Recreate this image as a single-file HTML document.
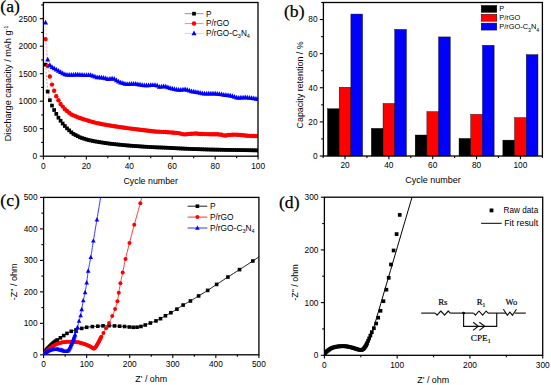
<!DOCTYPE html>
<html><head><meta charset="utf-8"><style>html,body{margin:0;padding:0;background:#fff;overflow:hidden}svg{display:block}</style></head>
<body>
<svg width="551" height="385" viewBox="0 0 551 385">
<rect width="551" height="385" fill="#fff"/>
<g clip-path="url(#ca)">
<clipPath id="ca"><rect x="43.4" y="2.5" width="214.6" height="153.7"/></clipPath>
<polyline points="45.55,64.62 47.69,91.57 49.84,100.21 51.99,105.6 54.13,110 56.28,113.9 58.43,117.7 60.58,120.76 62.72,123.57 64.87,126.02 67.02,128.38 69.16,130.34 71.31,132.31 73.46,133.93 75.6,135.05 77.75,136.16 79.9,137.28 82.05,138.07 84.19,138.73 86.34,139.38 88.49,140.02 90.63,140.46 92.78,140.91 94.93,141.35 97.07,141.72 99.22,142.08 101.37,142.42 103.52,142.73 105.66,143.05 107.81,143.36 109.96,143.68 112.1,143.92 114.25,144.14 116.4,144.36 118.54,144.58 120.69,144.8 122.84,145.02 124.99,145.23 127.13,145.43 129.28,145.59 131.43,145.75 133.57,145.91 135.72,146.07 137.87,146.23 140.01,146.39 142.16,146.54 144.31,146.67 146.46,146.79 148.6,146.92 150.75,147.04 152.9,147.17 155.04,147.29 157.19,147.37 159.34,147.44 161.48,147.52 163.63,147.6 165.78,147.67 167.93,147.79 170.07,147.91 172.22,148.03 174.37,148.15 176.51,148.27 178.66,148.39 180.81,148.48 182.95,148.58 185.1,148.67 187.25,148.77 189.4,148.86 191.54,148.96 193.69,149.05 195.84,149.12 197.98,149.18 200.13,149.25 202.28,149.31 204.42,149.38 206.57,149.44 208.72,149.51 210.87,149.56 213.01,149.6 215.16,149.64 217.31,149.68 219.45,149.73 221.6,149.77 223.75,149.81 225.89,149.85 228.04,149.89 230.19,149.93 232.34,149.96 234.48,150 236.63,150.03 238.78,150.07 240.92,150.1 243.07,150.13 245.22,150.17 247.36,150.2 249.51,150.23 251.66,150.27 253.81,150.3 255.95,150.34 258.1,150.37" fill="none" stroke="#999" stroke-width="0.8" stroke-dasharray="2 1.5"/>
<polyline points="45.55,39.1 47.69,66 49.84,76.5 51.99,84.59 54.13,90.8 56.28,96.3 58.43,100.21 60.58,103.95 62.72,106.62 64.87,109.28 67.02,111.05 69.16,112.81 71.31,114.49 73.46,115.41 75.6,116.32 77.75,117.24 79.9,118.04 82.05,118.73 84.19,119.41 86.34,120.09 88.49,120.73 90.63,121.35 92.78,121.97 94.93,122.59 97.07,123.08 99.22,123.56 101.37,123.99 103.52,124.38 105.66,124.77 107.81,125.16 109.96,125.56 112.1,125.9 114.25,126.21 116.4,126.53 118.54,126.85 120.69,127.16 122.84,127.48 124.99,127.8 127.13,128.09 129.28,128.36 131.43,128.63 133.57,128.89 135.72,129.16 137.87,129.43 140.01,129.7 142.16,129.96 144.31,130.21 146.46,130.47 148.6,130.72 150.75,130.99 152.9,131.27 155.04,131.56 157.19,131.65 159.34,131.74 161.48,131.83 163.63,131.92 165.78,132.02 167.93,132.18 170.07,132.35 172.22,132.52 174.37,132.68 176.51,132.89 178.66,133.1 180.81,133.63 182.95,134.16 185.1,134.38 187.25,134.15 189.4,133.92 191.54,133.8 193.69,133.67 195.84,133.54 197.98,133.68 200.13,133.98 202.28,134.03 204.42,134.08 206.57,134.13 208.72,134.17 210.87,134.21 213.01,134.24 215.16,134.27 217.31,134.29 219.45,134.44 221.6,134.75 223.75,135.41 225.89,135.5 228.04,135.02 230.19,134.87 232.34,134.72 234.48,134.6 236.63,134.74 238.78,134.88 240.92,135.02 243.07,135.26 245.22,135.5 247.36,135.74 249.51,135.84 251.66,135.93 253.81,136.03 255.95,136.12 258.1,136.12" fill="none" stroke="#f99" stroke-width="0.8" stroke-dasharray="2 1.5"/>
<polyline points="45.55,22.49 47.69,59.67 49.84,65.17 51.99,67.1 54.13,68.26 56.28,69.48 58.43,70.8 60.58,72.08 62.72,73.27 64.87,74.46 67.02,74.74 69.16,74.93 71.31,74.96 73.46,74.83 75.6,74.71 77.75,74.58 79.9,74.75 82.05,74.92 84.19,75.08 86.34,75.16 88.49,75.08 90.63,75.09 92.78,75.83 94.93,76.56 97.07,77.24 99.22,77.44 101.37,77.64 103.52,77.88 105.66,78.43 107.81,78.98 109.96,78.85 112.1,78.55 114.25,78.91 116.4,80.23 118.54,81.56 120.69,82.54 122.84,83.16 124.99,83.78 127.13,84.06 129.28,84 131.43,83.94 133.57,83.88 135.72,83.86 137.87,84.26 140.01,84.65 142.16,85.05 144.31,85.45 146.46,85.43 148.6,85.32 150.75,85.21 152.9,85.09 155.04,84.98 157.19,85.54 159.34,86.79 161.48,86.51 163.63,86.24 165.78,86.7 167.93,87.35 170.07,88 172.22,88.54 174.37,89.07 176.51,89.61 178.66,89.92 180.81,89.74 182.95,89.56 185.1,89.37 187.25,89.88 189.4,90.68 191.54,91.26 193.69,91.62 195.84,91.98 197.98,92.41 200.13,92.88 202.28,93.36 204.42,93.5 206.57,93.5 208.72,93.5 210.87,93.52 213.01,93.56 215.16,93.6 217.31,93.85 219.45,94.16 221.6,94.47 223.75,94.77 225.89,95.07 228.04,95.36 230.19,95.66 232.34,96.15 234.48,96.83 236.63,97.52 238.78,97.74 240.92,97.65 243.07,97.56 245.22,97.47 247.36,97.5 249.51,97.82 251.66,98.13 253.81,98.45 255.95,98.76 258.1,99" fill="none" stroke="#ccf" stroke-width="0.8" stroke-dasharray="2 1.5"/>
<rect x="43.7" y="62.77" width="3.7" height="3.7" fill="#000"/>
<rect x="45.84" y="89.72" width="3.7" height="3.7" fill="#000"/>
<rect x="47.99" y="98.36" width="3.7" height="3.7" fill="#000"/>
<rect x="50.14" y="103.75" width="3.7" height="3.7" fill="#000"/>
<rect x="52.28" y="108.15" width="3.7" height="3.7" fill="#000"/>
<rect x="54.43" y="112.05" width="3.7" height="3.7" fill="#000"/>
<rect x="56.58" y="115.85" width="3.7" height="3.7" fill="#000"/>
<rect x="58.73" y="118.91" width="3.7" height="3.7" fill="#000"/>
<rect x="60.87" y="121.72" width="3.7" height="3.7" fill="#000"/>
<rect x="63.02" y="124.17" width="3.7" height="3.7" fill="#000"/>
<rect x="65.17" y="126.53" width="3.7" height="3.7" fill="#000"/>
<rect x="67.31" y="128.49" width="3.7" height="3.7" fill="#000"/>
<rect x="69.46" y="130.46" width="3.7" height="3.7" fill="#000"/>
<rect x="71.61" y="132.08" width="3.7" height="3.7" fill="#000"/>
<rect x="73.75" y="133.2" width="3.7" height="3.7" fill="#000"/>
<rect x="75.9" y="134.31" width="3.7" height="3.7" fill="#000"/>
<rect x="78.05" y="135.43" width="3.7" height="3.7" fill="#000"/>
<rect x="80.2" y="136.22" width="3.7" height="3.7" fill="#000"/>
<rect x="82.34" y="136.88" width="3.7" height="3.7" fill="#000"/>
<rect x="84.49" y="137.53" width="3.7" height="3.7" fill="#000"/>
<rect x="86.64" y="138.17" width="3.7" height="3.7" fill="#000"/>
<rect x="88.78" y="138.61" width="3.7" height="3.7" fill="#000"/>
<rect x="90.93" y="139.06" width="3.7" height="3.7" fill="#000"/>
<rect x="93.08" y="139.5" width="3.7" height="3.7" fill="#000"/>
<rect x="95.22" y="139.87" width="3.7" height="3.7" fill="#000"/>
<rect x="97.37" y="140.23" width="3.7" height="3.7" fill="#000"/>
<rect x="99.52" y="140.57" width="3.7" height="3.7" fill="#000"/>
<rect x="101.67" y="140.88" width="3.7" height="3.7" fill="#000"/>
<rect x="103.81" y="141.2" width="3.7" height="3.7" fill="#000"/>
<rect x="105.96" y="141.51" width="3.7" height="3.7" fill="#000"/>
<rect x="108.11" y="141.83" width="3.7" height="3.7" fill="#000"/>
<rect x="110.25" y="142.07" width="3.7" height="3.7" fill="#000"/>
<rect x="112.4" y="142.29" width="3.7" height="3.7" fill="#000"/>
<rect x="114.55" y="142.51" width="3.7" height="3.7" fill="#000"/>
<rect x="116.69" y="142.73" width="3.7" height="3.7" fill="#000"/>
<rect x="118.84" y="142.95" width="3.7" height="3.7" fill="#000"/>
<rect x="120.99" y="143.17" width="3.7" height="3.7" fill="#000"/>
<rect x="123.14" y="143.38" width="3.7" height="3.7" fill="#000"/>
<rect x="125.28" y="143.58" width="3.7" height="3.7" fill="#000"/>
<rect x="127.43" y="143.74" width="3.7" height="3.7" fill="#000"/>
<rect x="129.58" y="143.9" width="3.7" height="3.7" fill="#000"/>
<rect x="131.72" y="144.06" width="3.7" height="3.7" fill="#000"/>
<rect x="133.87" y="144.22" width="3.7" height="3.7" fill="#000"/>
<rect x="136.02" y="144.38" width="3.7" height="3.7" fill="#000"/>
<rect x="138.16" y="144.54" width="3.7" height="3.7" fill="#000"/>
<rect x="140.31" y="144.69" width="3.7" height="3.7" fill="#000"/>
<rect x="142.46" y="144.82" width="3.7" height="3.7" fill="#000"/>
<rect x="144.61" y="144.94" width="3.7" height="3.7" fill="#000"/>
<rect x="146.75" y="145.07" width="3.7" height="3.7" fill="#000"/>
<rect x="148.9" y="145.19" width="3.7" height="3.7" fill="#000"/>
<rect x="151.05" y="145.32" width="3.7" height="3.7" fill="#000"/>
<rect x="153.19" y="145.44" width="3.7" height="3.7" fill="#000"/>
<rect x="155.34" y="145.52" width="3.7" height="3.7" fill="#000"/>
<rect x="157.49" y="145.59" width="3.7" height="3.7" fill="#000"/>
<rect x="159.63" y="145.67" width="3.7" height="3.7" fill="#000"/>
<rect x="161.78" y="145.75" width="3.7" height="3.7" fill="#000"/>
<rect x="163.93" y="145.82" width="3.7" height="3.7" fill="#000"/>
<rect x="166.08" y="145.94" width="3.7" height="3.7" fill="#000"/>
<rect x="168.22" y="146.06" width="3.7" height="3.7" fill="#000"/>
<rect x="170.37" y="146.18" width="3.7" height="3.7" fill="#000"/>
<rect x="172.52" y="146.3" width="3.7" height="3.7" fill="#000"/>
<rect x="174.66" y="146.42" width="3.7" height="3.7" fill="#000"/>
<rect x="176.81" y="146.54" width="3.7" height="3.7" fill="#000"/>
<rect x="178.96" y="146.63" width="3.7" height="3.7" fill="#000"/>
<rect x="181.1" y="146.73" width="3.7" height="3.7" fill="#000"/>
<rect x="183.25" y="146.82" width="3.7" height="3.7" fill="#000"/>
<rect x="185.4" y="146.92" width="3.7" height="3.7" fill="#000"/>
<rect x="187.55" y="147.01" width="3.7" height="3.7" fill="#000"/>
<rect x="189.69" y="147.11" width="3.7" height="3.7" fill="#000"/>
<rect x="191.84" y="147.2" width="3.7" height="3.7" fill="#000"/>
<rect x="193.99" y="147.27" width="3.7" height="3.7" fill="#000"/>
<rect x="196.13" y="147.33" width="3.7" height="3.7" fill="#000"/>
<rect x="198.28" y="147.4" width="3.7" height="3.7" fill="#000"/>
<rect x="200.43" y="147.46" width="3.7" height="3.7" fill="#000"/>
<rect x="202.57" y="147.53" width="3.7" height="3.7" fill="#000"/>
<rect x="204.72" y="147.59" width="3.7" height="3.7" fill="#000"/>
<rect x="206.87" y="147.66" width="3.7" height="3.7" fill="#000"/>
<rect x="209.02" y="147.71" width="3.7" height="3.7" fill="#000"/>
<rect x="211.16" y="147.75" width="3.7" height="3.7" fill="#000"/>
<rect x="213.31" y="147.79" width="3.7" height="3.7" fill="#000"/>
<rect x="215.46" y="147.83" width="3.7" height="3.7" fill="#000"/>
<rect x="217.6" y="147.88" width="3.7" height="3.7" fill="#000"/>
<rect x="219.75" y="147.92" width="3.7" height="3.7" fill="#000"/>
<rect x="221.9" y="147.96" width="3.7" height="3.7" fill="#000"/>
<rect x="224.04" y="148" width="3.7" height="3.7" fill="#000"/>
<rect x="226.19" y="148.04" width="3.7" height="3.7" fill="#000"/>
<rect x="228.34" y="148.08" width="3.7" height="3.7" fill="#000"/>
<rect x="230.49" y="148.11" width="3.7" height="3.7" fill="#000"/>
<rect x="232.63" y="148.15" width="3.7" height="3.7" fill="#000"/>
<rect x="234.78" y="148.18" width="3.7" height="3.7" fill="#000"/>
<rect x="236.93" y="148.22" width="3.7" height="3.7" fill="#000"/>
<rect x="239.07" y="148.25" width="3.7" height="3.7" fill="#000"/>
<rect x="241.22" y="148.28" width="3.7" height="3.7" fill="#000"/>
<rect x="243.37" y="148.32" width="3.7" height="3.7" fill="#000"/>
<rect x="245.51" y="148.35" width="3.7" height="3.7" fill="#000"/>
<rect x="247.66" y="148.38" width="3.7" height="3.7" fill="#000"/>
<rect x="249.81" y="148.42" width="3.7" height="3.7" fill="#000"/>
<rect x="251.96" y="148.45" width="3.7" height="3.7" fill="#000"/>
<rect x="254.1" y="148.49" width="3.7" height="3.7" fill="#000"/>
<rect x="256.25" y="148.52" width="3.7" height="3.7" fill="#000"/>
<circle cx="45.55" cy="39.1" r="2.2" fill="#f00"/>
<circle cx="47.69" cy="66" r="2.2" fill="#f00"/>
<circle cx="49.84" cy="76.5" r="2.2" fill="#f00"/>
<circle cx="51.99" cy="84.59" r="2.2" fill="#f00"/>
<circle cx="54.13" cy="90.8" r="2.2" fill="#f00"/>
<circle cx="56.28" cy="96.3" r="2.2" fill="#f00"/>
<circle cx="58.43" cy="100.21" r="2.2" fill="#f00"/>
<circle cx="60.58" cy="103.95" r="2.2" fill="#f00"/>
<circle cx="62.72" cy="106.62" r="2.2" fill="#f00"/>
<circle cx="64.87" cy="109.28" r="2.2" fill="#f00"/>
<circle cx="67.02" cy="111.05" r="2.2" fill="#f00"/>
<circle cx="69.16" cy="112.81" r="2.2" fill="#f00"/>
<circle cx="71.31" cy="114.49" r="2.2" fill="#f00"/>
<circle cx="73.46" cy="115.41" r="2.2" fill="#f00"/>
<circle cx="75.6" cy="116.32" r="2.2" fill="#f00"/>
<circle cx="77.75" cy="117.24" r="2.2" fill="#f00"/>
<circle cx="79.9" cy="118.04" r="2.2" fill="#f00"/>
<circle cx="82.05" cy="118.73" r="2.2" fill="#f00"/>
<circle cx="84.19" cy="119.41" r="2.2" fill="#f00"/>
<circle cx="86.34" cy="120.09" r="2.2" fill="#f00"/>
<circle cx="88.49" cy="120.73" r="2.2" fill="#f00"/>
<circle cx="90.63" cy="121.35" r="2.2" fill="#f00"/>
<circle cx="92.78" cy="121.97" r="2.2" fill="#f00"/>
<circle cx="94.93" cy="122.59" r="2.2" fill="#f00"/>
<circle cx="97.07" cy="123.08" r="2.2" fill="#f00"/>
<circle cx="99.22" cy="123.56" r="2.2" fill="#f00"/>
<circle cx="101.37" cy="123.99" r="2.2" fill="#f00"/>
<circle cx="103.52" cy="124.38" r="2.2" fill="#f00"/>
<circle cx="105.66" cy="124.77" r="2.2" fill="#f00"/>
<circle cx="107.81" cy="125.16" r="2.2" fill="#f00"/>
<circle cx="109.96" cy="125.56" r="2.2" fill="#f00"/>
<circle cx="112.1" cy="125.9" r="2.2" fill="#f00"/>
<circle cx="114.25" cy="126.21" r="2.2" fill="#f00"/>
<circle cx="116.4" cy="126.53" r="2.2" fill="#f00"/>
<circle cx="118.54" cy="126.85" r="2.2" fill="#f00"/>
<circle cx="120.69" cy="127.16" r="2.2" fill="#f00"/>
<circle cx="122.84" cy="127.48" r="2.2" fill="#f00"/>
<circle cx="124.99" cy="127.8" r="2.2" fill="#f00"/>
<circle cx="127.13" cy="128.09" r="2.2" fill="#f00"/>
<circle cx="129.28" cy="128.36" r="2.2" fill="#f00"/>
<circle cx="131.43" cy="128.63" r="2.2" fill="#f00"/>
<circle cx="133.57" cy="128.89" r="2.2" fill="#f00"/>
<circle cx="135.72" cy="129.16" r="2.2" fill="#f00"/>
<circle cx="137.87" cy="129.43" r="2.2" fill="#f00"/>
<circle cx="140.01" cy="129.7" r="2.2" fill="#f00"/>
<circle cx="142.16" cy="129.96" r="2.2" fill="#f00"/>
<circle cx="144.31" cy="130.21" r="2.2" fill="#f00"/>
<circle cx="146.46" cy="130.47" r="2.2" fill="#f00"/>
<circle cx="148.6" cy="130.72" r="2.2" fill="#f00"/>
<circle cx="150.75" cy="130.99" r="2.2" fill="#f00"/>
<circle cx="152.9" cy="131.27" r="2.2" fill="#f00"/>
<circle cx="155.04" cy="131.56" r="2.2" fill="#f00"/>
<circle cx="157.19" cy="131.65" r="2.2" fill="#f00"/>
<circle cx="159.34" cy="131.74" r="2.2" fill="#f00"/>
<circle cx="161.48" cy="131.83" r="2.2" fill="#f00"/>
<circle cx="163.63" cy="131.92" r="2.2" fill="#f00"/>
<circle cx="165.78" cy="132.02" r="2.2" fill="#f00"/>
<circle cx="167.93" cy="132.18" r="2.2" fill="#f00"/>
<circle cx="170.07" cy="132.35" r="2.2" fill="#f00"/>
<circle cx="172.22" cy="132.52" r="2.2" fill="#f00"/>
<circle cx="174.37" cy="132.68" r="2.2" fill="#f00"/>
<circle cx="176.51" cy="132.89" r="2.2" fill="#f00"/>
<circle cx="178.66" cy="133.1" r="2.2" fill="#f00"/>
<circle cx="180.81" cy="133.63" r="2.2" fill="#f00"/>
<circle cx="182.95" cy="134.16" r="2.2" fill="#f00"/>
<circle cx="185.1" cy="134.38" r="2.2" fill="#f00"/>
<circle cx="187.25" cy="134.15" r="2.2" fill="#f00"/>
<circle cx="189.4" cy="133.92" r="2.2" fill="#f00"/>
<circle cx="191.54" cy="133.8" r="2.2" fill="#f00"/>
<circle cx="193.69" cy="133.67" r="2.2" fill="#f00"/>
<circle cx="195.84" cy="133.54" r="2.2" fill="#f00"/>
<circle cx="197.98" cy="133.68" r="2.2" fill="#f00"/>
<circle cx="200.13" cy="133.98" r="2.2" fill="#f00"/>
<circle cx="202.28" cy="134.03" r="2.2" fill="#f00"/>
<circle cx="204.42" cy="134.08" r="2.2" fill="#f00"/>
<circle cx="206.57" cy="134.13" r="2.2" fill="#f00"/>
<circle cx="208.72" cy="134.17" r="2.2" fill="#f00"/>
<circle cx="210.87" cy="134.21" r="2.2" fill="#f00"/>
<circle cx="213.01" cy="134.24" r="2.2" fill="#f00"/>
<circle cx="215.16" cy="134.27" r="2.2" fill="#f00"/>
<circle cx="217.31" cy="134.29" r="2.2" fill="#f00"/>
<circle cx="219.45" cy="134.44" r="2.2" fill="#f00"/>
<circle cx="221.6" cy="134.75" r="2.2" fill="#f00"/>
<circle cx="223.75" cy="135.41" r="2.2" fill="#f00"/>
<circle cx="225.89" cy="135.5" r="2.2" fill="#f00"/>
<circle cx="228.04" cy="135.02" r="2.2" fill="#f00"/>
<circle cx="230.19" cy="134.87" r="2.2" fill="#f00"/>
<circle cx="232.34" cy="134.72" r="2.2" fill="#f00"/>
<circle cx="234.48" cy="134.6" r="2.2" fill="#f00"/>
<circle cx="236.63" cy="134.74" r="2.2" fill="#f00"/>
<circle cx="238.78" cy="134.88" r="2.2" fill="#f00"/>
<circle cx="240.92" cy="135.02" r="2.2" fill="#f00"/>
<circle cx="243.07" cy="135.26" r="2.2" fill="#f00"/>
<circle cx="245.22" cy="135.5" r="2.2" fill="#f00"/>
<circle cx="247.36" cy="135.74" r="2.2" fill="#f00"/>
<circle cx="249.51" cy="135.84" r="2.2" fill="#f00"/>
<circle cx="251.66" cy="135.93" r="2.2" fill="#f00"/>
<circle cx="253.81" cy="136.03" r="2.2" fill="#f00"/>
<circle cx="255.95" cy="136.12" r="2.2" fill="#f00"/>
<circle cx="258.1" cy="136.12" r="2.2" fill="#f00"/>
<path d="M45.55 19.64L48.05 24.39L43.05 24.39Z" fill="#00f"/>
<path d="M47.69 56.82L50.19 61.57L45.19 61.57Z" fill="#00f"/>
<path d="M49.84 62.32L52.34 67.07L47.34 67.07Z" fill="#00f"/>
<path d="M51.99 64.25L54.49 69L49.49 69Z" fill="#00f"/>
<path d="M54.13 65.41L56.63 70.16L51.63 70.16Z" fill="#00f"/>
<path d="M56.28 66.63L58.78 71.38L53.78 71.38Z" fill="#00f"/>
<path d="M58.43 67.95L60.93 72.7L55.93 72.7Z" fill="#00f"/>
<path d="M60.58 69.23L63.08 73.98L58.08 73.98Z" fill="#00f"/>
<path d="M62.72 70.42L65.22 75.17L60.22 75.17Z" fill="#00f"/>
<path d="M64.87 71.61L67.37 76.36L62.37 76.36Z" fill="#00f"/>
<path d="M67.02 71.89L69.52 76.64L64.52 76.64Z" fill="#00f"/>
<path d="M69.16 72.08L71.66 76.83L66.66 76.83Z" fill="#00f"/>
<path d="M71.31 72.11L73.81 76.86L68.81 76.86Z" fill="#00f"/>
<path d="M73.46 71.98L75.96 76.73L70.96 76.73Z" fill="#00f"/>
<path d="M75.6 71.86L78.1 76.61L73.1 76.61Z" fill="#00f"/>
<path d="M77.75 71.73L80.25 76.48L75.25 76.48Z" fill="#00f"/>
<path d="M79.9 71.9L82.4 76.65L77.4 76.65Z" fill="#00f"/>
<path d="M82.05 72.07L84.55 76.82L79.55 76.82Z" fill="#00f"/>
<path d="M84.19 72.23L86.69 76.98L81.69 76.98Z" fill="#00f"/>
<path d="M86.34 72.31L88.84 77.06L83.84 77.06Z" fill="#00f"/>
<path d="M88.49 72.23L90.99 76.98L85.99 76.98Z" fill="#00f"/>
<path d="M90.63 72.24L93.13 76.99L88.13 76.99Z" fill="#00f"/>
<path d="M92.78 72.98L95.28 77.73L90.28 77.73Z" fill="#00f"/>
<path d="M94.93 73.71L97.43 78.46L92.43 78.46Z" fill="#00f"/>
<path d="M97.07 74.39L99.57 79.14L94.57 79.14Z" fill="#00f"/>
<path d="M99.22 74.59L101.72 79.34L96.72 79.34Z" fill="#00f"/>
<path d="M101.37 74.79L103.87 79.54L98.87 79.54Z" fill="#00f"/>
<path d="M103.52 75.03L106.02 79.78L101.02 79.78Z" fill="#00f"/>
<path d="M105.66 75.58L108.16 80.33L103.16 80.33Z" fill="#00f"/>
<path d="M107.81 76.13L110.31 80.88L105.31 80.88Z" fill="#00f"/>
<path d="M109.96 76L112.46 80.75L107.46 80.75Z" fill="#00f"/>
<path d="M112.1 75.7L114.6 80.45L109.6 80.45Z" fill="#00f"/>
<path d="M114.25 76.06L116.75 80.81L111.75 80.81Z" fill="#00f"/>
<path d="M116.4 77.38L118.9 82.13L113.9 82.13Z" fill="#00f"/>
<path d="M118.54 78.71L121.04 83.46L116.04 83.46Z" fill="#00f"/>
<path d="M120.69 79.69L123.19 84.44L118.19 84.44Z" fill="#00f"/>
<path d="M122.84 80.31L125.34 85.06L120.34 85.06Z" fill="#00f"/>
<path d="M124.99 80.93L127.49 85.68L122.49 85.68Z" fill="#00f"/>
<path d="M127.13 81.21L129.63 85.96L124.63 85.96Z" fill="#00f"/>
<path d="M129.28 81.15L131.78 85.9L126.78 85.9Z" fill="#00f"/>
<path d="M131.43 81.09L133.93 85.84L128.93 85.84Z" fill="#00f"/>
<path d="M133.57 81.03L136.07 85.78L131.07 85.78Z" fill="#00f"/>
<path d="M135.72 81.01L138.22 85.76L133.22 85.76Z" fill="#00f"/>
<path d="M137.87 81.41L140.37 86.16L135.37 86.16Z" fill="#00f"/>
<path d="M140.01 81.8L142.51 86.55L137.51 86.55Z" fill="#00f"/>
<path d="M142.16 82.2L144.66 86.95L139.66 86.95Z" fill="#00f"/>
<path d="M144.31 82.6L146.81 87.35L141.81 87.35Z" fill="#00f"/>
<path d="M146.46 82.58L148.96 87.33L143.96 87.33Z" fill="#00f"/>
<path d="M148.6 82.47L151.1 87.22L146.1 87.22Z" fill="#00f"/>
<path d="M150.75 82.36L153.25 87.11L148.25 87.11Z" fill="#00f"/>
<path d="M152.9 82.24L155.4 86.99L150.4 86.99Z" fill="#00f"/>
<path d="M155.04 82.13L157.54 86.88L152.54 86.88Z" fill="#00f"/>
<path d="M157.19 82.69L159.69 87.44L154.69 87.44Z" fill="#00f"/>
<path d="M159.34 83.94L161.84 88.69L156.84 88.69Z" fill="#00f"/>
<path d="M161.48 83.66L163.98 88.41L158.98 88.41Z" fill="#00f"/>
<path d="M163.63 83.39L166.13 88.14L161.13 88.14Z" fill="#00f"/>
<path d="M165.78 83.85L168.28 88.6L163.28 88.6Z" fill="#00f"/>
<path d="M167.93 84.5L170.43 89.25L165.43 89.25Z" fill="#00f"/>
<path d="M170.07 85.15L172.57 89.9L167.57 89.9Z" fill="#00f"/>
<path d="M172.22 85.69L174.72 90.44L169.72 90.44Z" fill="#00f"/>
<path d="M174.37 86.22L176.87 90.97L171.87 90.97Z" fill="#00f"/>
<path d="M176.51 86.76L179.01 91.51L174.01 91.51Z" fill="#00f"/>
<path d="M178.66 87.07L181.16 91.82L176.16 91.82Z" fill="#00f"/>
<path d="M180.81 86.89L183.31 91.64L178.31 91.64Z" fill="#00f"/>
<path d="M182.95 86.71L185.45 91.46L180.45 91.46Z" fill="#00f"/>
<path d="M185.1 86.52L187.6 91.27L182.6 91.27Z" fill="#00f"/>
<path d="M187.25 87.03L189.75 91.78L184.75 91.78Z" fill="#00f"/>
<path d="M189.4 87.83L191.9 92.58L186.9 92.58Z" fill="#00f"/>
<path d="M191.54 88.41L194.04 93.16L189.04 93.16Z" fill="#00f"/>
<path d="M193.69 88.77L196.19 93.52L191.19 93.52Z" fill="#00f"/>
<path d="M195.84 89.13L198.34 93.88L193.34 93.88Z" fill="#00f"/>
<path d="M197.98 89.56L200.48 94.31L195.48 94.31Z" fill="#00f"/>
<path d="M200.13 90.03L202.63 94.78L197.63 94.78Z" fill="#00f"/>
<path d="M202.28 90.51L204.78 95.26L199.78 95.26Z" fill="#00f"/>
<path d="M204.42 90.65L206.92 95.4L201.92 95.4Z" fill="#00f"/>
<path d="M206.57 90.65L209.07 95.4L204.07 95.4Z" fill="#00f"/>
<path d="M208.72 90.65L211.22 95.4L206.22 95.4Z" fill="#00f"/>
<path d="M210.87 90.67L213.37 95.42L208.37 95.42Z" fill="#00f"/>
<path d="M213.01 90.71L215.51 95.46L210.51 95.46Z" fill="#00f"/>
<path d="M215.16 90.75L217.66 95.5L212.66 95.5Z" fill="#00f"/>
<path d="M217.31 91L219.81 95.75L214.81 95.75Z" fill="#00f"/>
<path d="M219.45 91.31L221.95 96.06L216.95 96.06Z" fill="#00f"/>
<path d="M221.6 91.62L224.1 96.37L219.1 96.37Z" fill="#00f"/>
<path d="M223.75 91.92L226.25 96.67L221.25 96.67Z" fill="#00f"/>
<path d="M225.89 92.22L228.39 96.97L223.39 96.97Z" fill="#00f"/>
<path d="M228.04 92.51L230.54 97.26L225.54 97.26Z" fill="#00f"/>
<path d="M230.19 92.81L232.69 97.56L227.69 97.56Z" fill="#00f"/>
<path d="M232.34 93.3L234.84 98.05L229.84 98.05Z" fill="#00f"/>
<path d="M234.48 93.98L236.98 98.73L231.98 98.73Z" fill="#00f"/>
<path d="M236.63 94.67L239.13 99.42L234.13 99.42Z" fill="#00f"/>
<path d="M238.78 94.89L241.28 99.64L236.28 99.64Z" fill="#00f"/>
<path d="M240.92 94.8L243.42 99.55L238.42 99.55Z" fill="#00f"/>
<path d="M243.07 94.71L245.57 99.46L240.57 99.46Z" fill="#00f"/>
<path d="M245.22 94.62L247.72 99.37L242.72 99.37Z" fill="#00f"/>
<path d="M247.36 94.65L249.86 99.4L244.86 99.4Z" fill="#00f"/>
<path d="M249.51 94.97L252.01 99.72L247.01 99.72Z" fill="#00f"/>
<path d="M251.66 95.28L254.16 100.03L249.16 100.03Z" fill="#00f"/>
<path d="M253.81 95.6L256.31 100.35L251.31 100.35Z" fill="#00f"/>
<path d="M255.95 95.91L258.45 100.66L253.45 100.66Z" fill="#00f"/>
<path d="M258.1 96.15L260.6 100.9L255.6 100.9Z" fill="#00f"/>
</g>
<rect x="43.4" y="2.5" width="214.6" height="153.7" fill="none" stroke="#000" stroke-width="1.3"/>
<line x1="43.4" y1="156.2" x2="43.4" y2="159.4" stroke="#000" stroke-width="1.1"/>
<line x1="86.34" y1="156.2" x2="86.34" y2="159.4" stroke="#000" stroke-width="1.1"/>
<line x1="129.28" y1="156.2" x2="129.28" y2="159.4" stroke="#000" stroke-width="1.1"/>
<line x1="172.22" y1="156.2" x2="172.22" y2="159.4" stroke="#000" stroke-width="1.1"/>
<line x1="215.16" y1="156.2" x2="215.16" y2="159.4" stroke="#000" stroke-width="1.1"/>
<line x1="258.1" y1="156.2" x2="258.1" y2="159.4" stroke="#000" stroke-width="1.1"/>
<line x1="64.87" y1="156.2" x2="64.87" y2="158.2" stroke="#000" stroke-width="1.1"/>
<line x1="107.81" y1="156.2" x2="107.81" y2="158.2" stroke="#000" stroke-width="1.1"/>
<line x1="150.75" y1="156.2" x2="150.75" y2="158.2" stroke="#000" stroke-width="1.1"/>
<line x1="193.69" y1="156.2" x2="193.69" y2="158.2" stroke="#000" stroke-width="1.1"/>
<line x1="236.63" y1="156.2" x2="236.63" y2="158.2" stroke="#000" stroke-width="1.1"/>
<text x="43.4" y="168.5" font-size="8.3" text-anchor="middle" font-family='"Liberation Sans", sans-serif' >0</text>
<text x="86.34" y="168.5" font-size="8.3" text-anchor="middle" font-family='"Liberation Sans", sans-serif' >20</text>
<text x="129.28" y="168.5" font-size="8.3" text-anchor="middle" font-family='"Liberation Sans", sans-serif' >40</text>
<text x="172.22" y="168.5" font-size="8.3" text-anchor="middle" font-family='"Liberation Sans", sans-serif' >60</text>
<text x="215.16" y="168.5" font-size="8.3" text-anchor="middle" font-family='"Liberation Sans", sans-serif' >80</text>
<text x="258.1" y="168.5" font-size="8.3" text-anchor="middle" font-family='"Liberation Sans", sans-serif' >100</text>
<line x1="39.8" y1="156.2" x2="43.4" y2="156.2" stroke="#000" stroke-width="1.1"/>
<line x1="39.8" y1="128.7" x2="43.4" y2="128.7" stroke="#000" stroke-width="1.1"/>
<line x1="39.8" y1="101.2" x2="43.4" y2="101.2" stroke="#000" stroke-width="1.1"/>
<line x1="39.8" y1="73.7" x2="43.4" y2="73.7" stroke="#000" stroke-width="1.1"/>
<line x1="39.8" y1="46.2" x2="43.4" y2="46.2" stroke="#000" stroke-width="1.1"/>
<line x1="39.8" y1="18.7" x2="43.4" y2="18.7" stroke="#000" stroke-width="1.1"/>
<line x1="41.2" y1="142.45" x2="43.4" y2="142.45" stroke="#000" stroke-width="1.1"/>
<line x1="41.2" y1="114.95" x2="43.4" y2="114.95" stroke="#000" stroke-width="1.1"/>
<line x1="41.2" y1="87.45" x2="43.4" y2="87.45" stroke="#000" stroke-width="1.1"/>
<line x1="41.2" y1="59.95" x2="43.4" y2="59.95" stroke="#000" stroke-width="1.1"/>
<line x1="41.2" y1="32.45" x2="43.4" y2="32.45" stroke="#000" stroke-width="1.1"/>
<line x1="41.2" y1="4.95" x2="43.4" y2="4.95" stroke="#000" stroke-width="1.1"/>
<text x="37" y="159.15" font-size="8.3" text-anchor="end" font-family='"Liberation Sans", sans-serif' >0</text>
<text x="37" y="131.65" font-size="8.3" text-anchor="end" font-family='"Liberation Sans", sans-serif' >500</text>
<text x="37" y="104.15" font-size="8.3" text-anchor="end" font-family='"Liberation Sans", sans-serif' >1000</text>
<text x="37" y="76.65" font-size="8.3" text-anchor="end" font-family='"Liberation Sans", sans-serif' >1500</text>
<text x="37" y="49.15" font-size="8.3" text-anchor="end" font-family='"Liberation Sans", sans-serif' >2000</text>
<text x="37" y="21.65" font-size="8.3" text-anchor="end" font-family='"Liberation Sans", sans-serif' >2500</text>
<text x="150.7" y="183.8" font-size="8.9" text-anchor="middle" font-family='"Liberation Sans", sans-serif' textLength="54.6" lengthAdjust="spacingAndGlyphs">Cycle number</text>
<text transform="translate(11.3,141.2) rotate(-90)" font-size="9.1" font-family='"Liberation Sans", sans-serif'>Discharge capacity / mAh g<tspan font-size="5.6" dy="-3.6">-1</tspan></text>
<text x="0.3" y="11.6" font-size="17.6" text-anchor="start" font-family='"Liberation Serif", serif' stroke="#000" stroke-width="0.25">(a)</text>
<line x1="184.8" y1="13.7" x2="203.5" y2="13.7" stroke="#888" stroke-width="0.9"/>
<rect x="192.15" y="11.85" width="3.7" height="3.7" fill="#000"/>
<text x="206" y="16.6" font-size="8.2" text-anchor="start" font-family='"Liberation Sans", sans-serif' >P</text>
<line x1="184.8" y1="23.57" x2="203.5" y2="23.57" stroke="#f77" stroke-width="0.9"/>
<circle cx="194" cy="23.57" r="2.2" fill="#f00"/>
<text x="206" y="26.47" font-size="8.2" text-anchor="start" font-family='"Liberation Sans", sans-serif' >P/rGO</text>
<line x1="184.8" y1="33.44" x2="203.5" y2="33.44" stroke="#ccf" stroke-width="0.9"/>
<path d="M194 30.59L196.5 35.34L191.5 35.34Z" fill="#00f"/>
<text x="206" y="36.34" font-size="8.2" text-anchor="start" font-family='"Liberation Sans", sans-serif' >P/rGO-C<tspan font-size="5.5" dy="2">3</tspan><tspan dy="-2">N</tspan><tspan font-size="5.5" dy="2">4</tspan></text>
<rect x="327.48" y="108.74" width="11.7" height="47.26" fill="#000" stroke="#000" stroke-width="0.4"/>
<rect x="339.18" y="87.25" width="11.7" height="68.75" fill="#f00" stroke="#000" stroke-width="0.4"/>
<rect x="350.88" y="14.06" width="11.7" height="141.94" fill="#00f" stroke="#000" stroke-width="0.4"/>
<rect x="371.32" y="128.36" width="11.7" height="27.64" fill="#000" stroke="#000" stroke-width="0.4"/>
<rect x="383.02" y="103.46" width="11.7" height="52.54" fill="#f00" stroke="#000" stroke-width="0.4"/>
<rect x="394.72" y="29.41" width="11.7" height="126.59" fill="#00f" stroke="#000" stroke-width="0.4"/>
<rect x="415.18" y="135.02" width="11.7" height="20.98" fill="#000" stroke="#000" stroke-width="0.4"/>
<rect x="426.88" y="111.64" width="11.7" height="44.36" fill="#f00" stroke="#000" stroke-width="0.4"/>
<rect x="438.57" y="36.92" width="11.7" height="119.08" fill="#00f" stroke="#000" stroke-width="0.4"/>
<rect x="459.03" y="138.43" width="11.7" height="17.57" fill="#000" stroke="#000" stroke-width="0.4"/>
<rect x="470.73" y="114.37" width="11.7" height="41.63" fill="#f00" stroke="#000" stroke-width="0.4"/>
<rect x="482.43" y="45.28" width="11.7" height="110.72" fill="#00f" stroke="#000" stroke-width="0.4"/>
<rect x="502.87" y="140.13" width="11.7" height="15.87" fill="#000" stroke="#000" stroke-width="0.4"/>
<rect x="514.57" y="117.62" width="11.7" height="38.38" fill="#f00" stroke="#000" stroke-width="0.4"/>
<rect x="526.27" y="54.66" width="11.7" height="101.34" fill="#00f" stroke="#000" stroke-width="0.4"/>
<rect x="323.4" y="2.5" width="219" height="153.5" fill="none" stroke="#000" stroke-width="1.3"/>
<line x1="345.03" y1="156" x2="345.03" y2="159.2" stroke="#000" stroke-width="1.1"/>
<line x1="388.88" y1="156" x2="388.88" y2="159.2" stroke="#000" stroke-width="1.1"/>
<line x1="432.73" y1="156" x2="432.73" y2="159.2" stroke="#000" stroke-width="1.1"/>
<line x1="476.58" y1="156" x2="476.58" y2="159.2" stroke="#000" stroke-width="1.1"/>
<line x1="520.42" y1="156" x2="520.42" y2="159.2" stroke="#000" stroke-width="1.1"/>
<line x1="323.1" y1="156" x2="323.1" y2="158" stroke="#000" stroke-width="1.1"/>
<line x1="366.95" y1="156" x2="366.95" y2="158" stroke="#000" stroke-width="1.1"/>
<line x1="410.8" y1="156" x2="410.8" y2="158" stroke="#000" stroke-width="1.1"/>
<line x1="454.65" y1="156" x2="454.65" y2="158" stroke="#000" stroke-width="1.1"/>
<line x1="498.5" y1="156" x2="498.5" y2="158" stroke="#000" stroke-width="1.1"/>
<line x1="542.35" y1="156" x2="542.35" y2="158" stroke="#000" stroke-width="1.1"/>
<text x="345.03" y="168.3" font-size="8.3" text-anchor="middle" font-family='"Liberation Sans", sans-serif' >20</text>
<text x="388.88" y="168.3" font-size="8.3" text-anchor="middle" font-family='"Liberation Sans", sans-serif' >40</text>
<text x="432.73" y="168.3" font-size="8.3" text-anchor="middle" font-family='"Liberation Sans", sans-serif' >60</text>
<text x="476.58" y="168.3" font-size="8.3" text-anchor="middle" font-family='"Liberation Sans", sans-serif' >80</text>
<text x="520.42" y="168.3" font-size="8.3" text-anchor="middle" font-family='"Liberation Sans", sans-serif' >100</text>
<line x1="319.8" y1="156" x2="323.4" y2="156" stroke="#000" stroke-width="1.1"/>
<line x1="319.8" y1="121.88" x2="323.4" y2="121.88" stroke="#000" stroke-width="1.1"/>
<line x1="319.8" y1="87.76" x2="323.4" y2="87.76" stroke="#000" stroke-width="1.1"/>
<line x1="319.8" y1="53.64" x2="323.4" y2="53.64" stroke="#000" stroke-width="1.1"/>
<line x1="319.8" y1="19.52" x2="323.4" y2="19.52" stroke="#000" stroke-width="1.1"/>
<line x1="321.2" y1="138.94" x2="323.4" y2="138.94" stroke="#000" stroke-width="1.1"/>
<line x1="321.2" y1="104.82" x2="323.4" y2="104.82" stroke="#000" stroke-width="1.1"/>
<line x1="321.2" y1="70.7" x2="323.4" y2="70.7" stroke="#000" stroke-width="1.1"/>
<line x1="321.2" y1="36.58" x2="323.4" y2="36.58" stroke="#000" stroke-width="1.1"/>
<line x1="321.2" y1="2.46" x2="323.4" y2="2.46" stroke="#000" stroke-width="1.1"/>
<text x="317.6" y="158.95" font-size="8.3" text-anchor="end" font-family='"Liberation Sans", sans-serif' >0</text>
<text x="317.6" y="124.83" font-size="8.3" text-anchor="end" font-family='"Liberation Sans", sans-serif' >20</text>
<text x="317.6" y="90.71" font-size="8.3" text-anchor="end" font-family='"Liberation Sans", sans-serif' >40</text>
<text x="317.6" y="56.59" font-size="8.3" text-anchor="end" font-family='"Liberation Sans", sans-serif' >60</text>
<text x="317.6" y="22.47" font-size="8.3" text-anchor="end" font-family='"Liberation Sans", sans-serif' >80</text>
<text x="433" y="183" font-size="8.9" text-anchor="middle" font-family='"Liberation Sans", sans-serif' textLength="55.6" lengthAdjust="spacingAndGlyphs">Cycle number</text>
<text transform="translate(302.6,128.5) rotate(-90)" font-size="8.9" font-family='"Liberation Sans", sans-serif' textLength="87.2" lengthAdjust="spacingAndGlyphs">Capacity retention / %</text>
<text x="284" y="17.4" font-size="17.6" text-anchor="start" font-family='"Liberation Serif", serif' stroke="#000" stroke-width="0.25">(b)</text>
<rect x="481.2" y="5.4" width="15.6" height="7.0" fill="#000" stroke="#000" stroke-width="0.4"/>
<text x="499.3" y="11.4" font-size="7.4" text-anchor="start" font-family='"Liberation Sans", sans-serif' >P</text>
<rect x="481.2" y="14.25" width="15.6" height="7.0" fill="#f00" stroke="#000" stroke-width="0.4"/>
<text x="499.3" y="20.25" font-size="7.4" text-anchor="start" font-family='"Liberation Sans", sans-serif' >P/rGO</text>
<rect x="481.2" y="23.1" width="15.6" height="7.0" fill="#00f" stroke="#000" stroke-width="0.4"/>
<text x="499.3" y="29.1" font-size="7.4" text-anchor="start" font-family='"Liberation Sans", sans-serif' >P/rGO-C<tspan font-size="5.2" dy="2.6">3</tspan><tspan dy="-2.6">N</tspan><tspan font-size="5.2" dy="2.6">4</tspan></text>
<rect x="43.6" y="197.4" width="215.3" height="157.4" fill="none" stroke="#000" stroke-width="1.3"/>
<line x1="43.6" y1="354.8" x2="43.6" y2="358" stroke="#000" stroke-width="1.1"/>
<line x1="86.66" y1="354.8" x2="86.66" y2="358" stroke="#000" stroke-width="1.1"/>
<line x1="129.72" y1="354.8" x2="129.72" y2="358" stroke="#000" stroke-width="1.1"/>
<line x1="172.78" y1="354.8" x2="172.78" y2="358" stroke="#000" stroke-width="1.1"/>
<line x1="215.84" y1="354.8" x2="215.84" y2="358" stroke="#000" stroke-width="1.1"/>
<line x1="258.9" y1="354.8" x2="258.9" y2="358" stroke="#000" stroke-width="1.1"/>
<line x1="65.13" y1="354.8" x2="65.13" y2="356.8" stroke="#000" stroke-width="1.1"/>
<line x1="108.19" y1="354.8" x2="108.19" y2="356.8" stroke="#000" stroke-width="1.1"/>
<line x1="151.25" y1="354.8" x2="151.25" y2="356.8" stroke="#000" stroke-width="1.1"/>
<line x1="194.31" y1="354.8" x2="194.31" y2="356.8" stroke="#000" stroke-width="1.1"/>
<line x1="237.37" y1="354.8" x2="237.37" y2="356.8" stroke="#000" stroke-width="1.1"/>
<text x="43.6" y="367.1" font-size="8.3" text-anchor="middle" font-family='"Liberation Sans", sans-serif' >0</text>
<text x="86.66" y="367.1" font-size="8.3" text-anchor="middle" font-family='"Liberation Sans", sans-serif' >100</text>
<text x="129.72" y="367.1" font-size="8.3" text-anchor="middle" font-family='"Liberation Sans", sans-serif' >200</text>
<text x="172.78" y="367.1" font-size="8.3" text-anchor="middle" font-family='"Liberation Sans", sans-serif' >300</text>
<text x="215.84" y="367.1" font-size="8.3" text-anchor="middle" font-family='"Liberation Sans", sans-serif' >400</text>
<text x="258.9" y="367.1" font-size="8.3" text-anchor="middle" font-family='"Liberation Sans", sans-serif' >500</text>
<line x1="40" y1="354.8" x2="43.6" y2="354.8" stroke="#000" stroke-width="1.1"/>
<line x1="40" y1="323.32" x2="43.6" y2="323.32" stroke="#000" stroke-width="1.1"/>
<line x1="40" y1="291.84" x2="43.6" y2="291.84" stroke="#000" stroke-width="1.1"/>
<line x1="40" y1="260.36" x2="43.6" y2="260.36" stroke="#000" stroke-width="1.1"/>
<line x1="40" y1="228.88" x2="43.6" y2="228.88" stroke="#000" stroke-width="1.1"/>
<line x1="40" y1="197.4" x2="43.6" y2="197.4" stroke="#000" stroke-width="1.1"/>
<line x1="41.4" y1="339.06" x2="43.6" y2="339.06" stroke="#000" stroke-width="1.1"/>
<line x1="41.4" y1="307.58" x2="43.6" y2="307.58" stroke="#000" stroke-width="1.1"/>
<line x1="41.4" y1="276.1" x2="43.6" y2="276.1" stroke="#000" stroke-width="1.1"/>
<line x1="41.4" y1="244.62" x2="43.6" y2="244.62" stroke="#000" stroke-width="1.1"/>
<line x1="41.4" y1="213.14" x2="43.6" y2="213.14" stroke="#000" stroke-width="1.1"/>
<text x="37.6" y="357.75" font-size="8.3" text-anchor="end" font-family='"Liberation Sans", sans-serif' >0</text>
<text x="37.6" y="326.27" font-size="8.3" text-anchor="end" font-family='"Liberation Sans", sans-serif' >100</text>
<text x="37.6" y="294.79" font-size="8.3" text-anchor="end" font-family='"Liberation Sans", sans-serif' >200</text>
<text x="37.6" y="263.31" font-size="8.3" text-anchor="end" font-family='"Liberation Sans", sans-serif' >300</text>
<text x="37.6" y="231.83" font-size="8.3" text-anchor="end" font-family='"Liberation Sans", sans-serif' >400</text>
<text x="37.6" y="200.35" font-size="8.3" text-anchor="end" font-family='"Liberation Sans", sans-serif' >500</text>
<text x="151.2" y="382.3" font-size="8.9" text-anchor="middle" font-family='"Liberation Sans", sans-serif' >Z' / ohm</text>
<text transform="translate(17.0,300.3) rotate(-90)" font-size="8.9" font-family='"Liberation Sans", sans-serif' textLength="36.8" lengthAdjust="spacingAndGlyphs">-Z" / ohm</text>
<text x="0.3" y="205.7" font-size="17.6" text-anchor="start" font-family='"Liberation Serif", serif' stroke="#000" stroke-width="0.25">(c)</text>
<clipPath id="cc"><rect x="43.6" y="197.4" width="215.29999999999998" height="157.4"/></clipPath>
<g clip-path="url(#cc)">
<polyline points="43.6,354.8 43.63,354.71 43.67,354.58 43.71,354.43 43.76,354.27 43.82,354.09 43.88,353.91 43.95,353.72 44.03,353.54 44.11,353.36 44.21,353.17 44.3,352.98 44.41,352.78 44.52,352.58 44.64,352.38 44.76,352.17 44.89,351.97 45.03,351.76 45.17,351.55 45.33,351.34 45.48,351.13 45.65,350.91 45.82,350.69 46,350.47 46.18,350.24 46.38,350 46.57,349.75 46.78,349.5 46.99,349.24 47.21,348.98 47.44,348.72 47.67,348.45 47.91,348.19 48.15,347.92 48.41,347.65 48.68,347.37 48.96,347.09 49.23,346.81 49.51,346.53 49.79,346.25 50.06,345.99 50.33,345.72 50.6,345.46 50.87,345.2 51.14,344.94 51.4,344.69 51.67,344.44 51.94,344.19 52.21,343.94 52.48,343.7 52.73,343.46 52.98,343.23 53.23,343 53.49,342.76 53.77,342.53 54.05,342.29 54.37,342.05 54.7,341.8 55.06,341.55 55.43,341.3 55.82,341.05 56.21,340.79 56.61,340.53 57,340.27 57.38,340 57.75,339.74 58.13,339.46 58.5,339.19 58.87,338.91 59.24,338.63 59.62,338.36 60,338.08 60.39,337.8 60.79,337.53 61.2,337.25 61.62,336.97 62.04,336.7 62.46,336.42 62.88,336.15 63.29,335.87 63.71,335.6 64.11,335.32 64.51,335.04 64.89,334.77 65.28,334.49 65.68,334.21 66.09,333.94 66.52,333.66 66.98,333.39 67.47,333.12 67.98,332.85 68.5,332.57 69.05,332.3 69.6,332.04 70.16,331.78 70.72,331.54 71.29,331.32 71.85,331.11 72.41,330.92 72.97,330.75 73.55,330.59 74.13,330.43 74.73,330.27 75.34,330.11 75.98,329.93 76.65,329.74 77.36,329.55 78.09,329.34 78.83,329.14 79.57,328.94 80.31,328.75 81.02,328.56 81.71,328.39 82.35,328.23 82.97,328.07 83.57,327.92 84.16,327.78 84.75,327.65 85.35,327.52 85.97,327.4 86.62,327.29 87.3,327.18 88.01,327.08 88.73,326.98 89.47,326.89 90.21,326.81 90.95,326.74 91.68,326.66 92.39,326.59 93.08,326.53 93.77,326.48 94.46,326.43 95.13,326.39 95.81,326.34 96.48,326.3 97.15,326.26 97.81,326.22 98.47,326.17 99.11,326.12 99.75,326.06 100.38,326.01 101.02,325.96 101.67,325.92 102.34,325.87 103.02,325.84 103.74,325.81 104.48,325.78 105.23,325.76 106,325.74 106.76,325.73 107.53,325.72 108.28,325.71 109.01,325.71 109.72,325.72 110.43,325.73 111.13,325.75 111.82,325.78 112.51,325.81 113.18,325.84 113.85,325.87 114.52,325.9 115.18,325.93 115.82,325.97 116.46,326.01 117.1,326.05 117.72,326.09 118.35,326.14 118.97,326.18 119.6,326.22 120.23,326.25 120.85,326.28 121.48,326.32 122.1,326.35 122.72,326.38 123.33,326.41 123.94,326.45 124.55,326.5 125.16,326.55 125.77,326.61 126.38,326.68 126.99,326.75 127.59,326.82 128.17,326.89 128.74,326.95 129.29,327 129.82,327.05 130.32,327.1 130.81,327.15 131.28,327.2 131.75,327.24 132.22,327.27 132.69,327.3 133.16,327.32 133.65,327.33 134.13,327.34 134.62,327.34 135.1,327.34 135.59,327.33 136.07,327.3 136.56,327.27 137.04,327.22 137.52,327.17 138,327.1 138.47,327.02 138.95,326.93 139.43,326.83 139.92,326.72 140.41,326.6 140.92,326.47 141.43,326.32 141.94,326.16 142.46,325.99 142.99,325.8 143.52,325.61 144.07,325.41 144.64,325.2 145.22,324.99 145.82,324.77 146.44,324.53 147.08,324.29 147.72,324.04 148.38,323.78 149.05,323.52 149.72,323.26 150.39,323.01 151.08,322.75 151.78,322.49 152.5,322.23 153.23,321.96 153.95,321.7 154.65,321.43 155.34,321.17 155.99,320.9 156.6,320.63 157.18,320.37 157.74,320.11 158.29,319.85 158.83,319.58 159.37,319.3 159.93,319 160.51,318.69 161.1,318.36 161.7,318.01 162.31,317.65 162.93,317.28 163.55,316.9 164.18,316.52 164.82,316.14 165.46,315.76 166.11,315.39 166.77,315.02 167.43,314.65 168.11,314.28 168.79,313.9 169.48,313.51 170.18,313.12 170.89,312.71 171.61,312.29 172.35,311.87 173.09,311.44 173.85,311 174.61,310.55 175.38,310.09 176.15,309.63 176.91,309.15 177.67,308.67 178.43,308.17 179.18,307.66 179.93,307.14 180.7,306.62 181.48,306.1 182.28,305.58 183.11,305.06 183.97,304.56 184.85,304.06 185.74,303.57 186.65,303.07 187.58,302.57 188.52,302.06 189.47,301.53 190.43,300.97 191.41,300.39 192.4,299.79 193.4,299.17 194.42,298.54 195.45,297.9 196.49,297.25 197.55,296.59 198.62,295.93 199.71,295.27 200.82,294.59 201.95,293.91 203.09,293.22 204.24,292.52 205.38,291.82 206.53,291.11 207.66,290.39 208.77,289.67 209.85,288.96 210.92,288.24 212,287.52 213.09,286.77 214.21,286.01 215.38,285.23 216.62,284.41 217.91,283.56 219.26,282.67 220.66,281.75 222.09,280.82 223.54,279.87 225,278.92 226.45,277.98 227.9,277.04 229.32,276.13 230.74,275.22 232.16,274.32 233.58,273.41 235.02,272.49 236.49,271.56 237.98,270.6 239.52,269.62 241.12,268.59 242.76,267.54 244.44,266.46 246.14,265.37 247.85,264.27 249.55,263.17 251.23,262.07 252.87,260.99 254.56,259.86 256.35,258.66 258.17,257.42 259.95,256.2 261.63,255.05 263.14,254.01 264.4,253.14 265.36,252.49" fill="none" stroke="#000" stroke-width="0.9" stroke-linejoin="round" />
<rect x="41.8" y="353" width="3.6" height="3.6" fill="#000"/>
<rect x="42.26" y="351.68" width="3.6" height="3.6" fill="#000"/>
<rect x="42.92" y="350.44" width="3.6" height="3.6" fill="#000"/>
<rect x="43.71" y="349.29" width="3.6" height="3.6" fill="#000"/>
<rect x="44.58" y="348.19" width="3.6" height="3.6" fill="#000"/>
<rect x="45.47" y="347.11" width="3.6" height="3.6" fill="#000"/>
<rect x="46.4" y="346.07" width="3.6" height="3.6" fill="#000"/>
<rect x="47.38" y="345.06" width="3.6" height="3.6" fill="#000"/>
<rect x="48.37" y="344.08" width="3.6" height="3.6" fill="#000"/>
<rect x="49.38" y="343.1" width="3.6" height="3.6" fill="#000"/>
<rect x="50.4" y="342.15" width="3.6" height="3.6" fill="#000"/>
<rect x="51.43" y="341.2" width="3.6" height="3.6" fill="#000"/>
<rect x="52.5" y="340.3" width="3.6" height="3.6" fill="#000"/>
<rect x="53.64" y="339.49" width="3.6" height="3.6" fill="#000"/>
<rect x="54.81" y="338.71" width="3.6" height="3.6" fill="#000"/>
<rect x="55.58" y="338.2" width="3.6" height="3.6" fill="#000"/>
<rect x="58.59" y="336" width="3.6" height="3.6" fill="#000"/>
<rect x="61.91" y="333.8" width="3.6" height="3.6" fill="#000"/>
<rect x="65.18" y="331.59" width="3.6" height="3.6" fill="#000"/>
<rect x="69.49" y="329.52" width="3.6" height="3.6" fill="#000"/>
<rect x="74.18" y="328.13" width="3.6" height="3.6" fill="#000"/>
<rect x="79.91" y="326.59" width="3.6" height="3.6" fill="#000"/>
<rect x="84.82" y="325.49" width="3.6" height="3.6" fill="#000"/>
<rect x="90.59" y="324.79" width="3.6" height="3.6" fill="#000"/>
<rect x="96.01" y="324.42" width="3.6" height="3.6" fill="#000"/>
<rect x="101.22" y="324.04" width="3.6" height="3.6" fill="#000"/>
<rect x="107.21" y="323.91" width="3.6" height="3.6" fill="#000"/>
<rect x="112.72" y="324.1" width="3.6" height="3.6" fill="#000"/>
<rect x="117.8" y="324.42" width="3.6" height="3.6" fill="#000"/>
<rect x="122.75" y="324.7" width="3.6" height="3.6" fill="#000"/>
<rect x="127.49" y="325.2" width="3.6" height="3.6" fill="#000"/>
<rect x="131.36" y="325.52" width="3.6" height="3.6" fill="#000"/>
<rect x="135.24" y="325.42" width="3.6" height="3.6" fill="#000"/>
<rect x="139.12" y="324.67" width="3.6" height="3.6" fill="#000"/>
<rect x="143.42" y="323.19" width="3.6" height="3.6" fill="#000"/>
<rect x="148.59" y="321.21" width="3.6" height="3.6" fill="#000"/>
<rect x="154.19" y="319.1" width="3.6" height="3.6" fill="#000"/>
<rect x="158.71" y="316.89" width="3.6" height="3.6" fill="#000"/>
<rect x="163.66" y="313.96" width="3.6" height="3.6" fill="#000"/>
<rect x="169.09" y="310.91" width="3.6" height="3.6" fill="#000"/>
<rect x="175.11" y="307.35" width="3.6" height="3.6" fill="#000"/>
<rect x="181.31" y="303.26" width="3.6" height="3.6" fill="#000"/>
<rect x="188.63" y="299.17" width="3.6" height="3.6" fill="#000"/>
<rect x="196.82" y="294.13" width="3.6" height="3.6" fill="#000"/>
<rect x="205.86" y="288.59" width="3.6" height="3.6" fill="#000"/>
<rect x="214.82" y="282.61" width="3.6" height="3.6" fill="#000"/>
<rect x="226.1" y="275.24" width="3.6" height="3.6" fill="#000"/>
<rect x="237.72" y="267.82" width="3.6" height="3.6" fill="#000"/>
<rect x="251.07" y="259.19" width="3.6" height="3.6" fill="#000"/>
<polyline points="43.6,354.8 43.66,354.7 43.74,354.58 43.84,354.43 43.95,354.26 44.07,354.08 44.2,353.9 44.33,353.71 44.46,353.54 44.6,353.37 44.75,353.19 44.91,353.01 45.08,352.83 45.25,352.65 45.42,352.47 45.59,352.29 45.75,352.12 45.91,351.96 46.06,351.82 46.2,351.68 46.35,351.53 46.5,351.39 46.66,351.23 46.84,351.06 47.04,350.87 47.27,350.65 47.51,350.41 47.76,350.16 48.03,349.89 48.31,349.62 48.6,349.35 48.9,349.08 49.2,348.82 49.51,348.56 49.84,348.3 50.19,348.03 50.54,347.77 50.89,347.51 51.24,347.25 51.58,347.01 51.91,346.77 52.23,346.55 52.54,346.34 52.85,346.13 53.15,345.94 53.45,345.75 53.75,345.56 54.06,345.38 54.37,345.2 54.66,345.03 54.94,344.87 55.21,344.71 55.48,344.56 55.78,344.41 56.1,344.26 56.47,344.1 56.91,343.94 57.41,343.77 57.96,343.58 58.57,343.39 59.21,343.2 59.86,343.01 60.53,342.83 61.18,342.67 61.81,342.52 62.44,342.39 63.06,342.28 63.68,342.17 64.31,342.08 64.94,341.99 65.56,341.92 66.19,341.85 66.81,341.8 67.43,341.75 68.05,341.72 68.67,341.7 69.29,341.68 69.9,341.68 70.51,341.68 71.12,341.69 71.72,341.7 72.31,341.72 72.89,341.75 73.46,341.78 74.03,341.81 74.6,341.86 75.17,341.91 75.75,341.98 76.33,342.05 76.91,342.14 77.51,342.23 78.11,342.34 78.71,342.46 79.31,342.58 79.91,342.71 80.49,342.85 81.06,343 81.63,343.15 82.19,343.32 82.75,343.49 83.3,343.67 83.84,343.86 84.36,344.05 84.87,344.23 85.37,344.41 85.85,344.59 86.31,344.77 86.76,344.94 87.2,345.12 87.62,345.3 88.03,345.47 88.43,345.65 88.81,345.83 89.18,346.01 89.54,346.19 89.89,346.38 90.23,346.57 90.54,346.75 90.85,346.92 91.13,347.09 91.4,347.24 91.64,347.39 91.86,347.53 92.07,347.65 92.26,347.78 92.43,347.89 92.59,348 92.75,348.1 92.9,348.19 93.04,348.28 93.17,348.37 93.28,348.45 93.39,348.52 93.49,348.59 93.59,348.63 93.69,348.66 93.81,348.66 93.93,348.64 94.05,348.61 94.17,348.55 94.3,348.48 94.43,348.4 94.56,348.29 94.7,348.17 94.84,348.03 94.99,347.88 95.14,347.7 95.29,347.51 95.44,347.3 95.61,347.08 95.77,346.84 95.95,346.58 96.13,346.3 96.33,346 96.54,345.66 96.77,345.3 96.99,344.93 97.22,344.55 97.45,344.17 97.66,343.81 97.86,343.47 98.03,343.15 98.19,342.87 98.33,342.59 98.47,342.32 98.62,342.04 98.77,341.74 98.95,341.4 99.15,341.01 99.38,340.57 99.63,340.09 99.89,339.57 100.17,339.03 100.46,338.48 100.74,337.92 101.03,337.38 101.3,336.86 101.56,336.36 101.82,335.87 102.07,335.39 102.33,334.91 102.58,334.42 102.85,333.93 103.12,333.42 103.41,332.89 103.71,332.34 104.02,331.78 104.34,331.21 104.67,330.62 105,330.03 105.34,329.42 105.69,328.81 106.04,328.2 106.39,327.59 106.76,326.98 107.13,326.36 107.51,325.74 107.89,325.1 108.27,324.44 108.66,323.74 109.05,323.01 109.45,322.22 109.85,321.4 110.27,320.54 110.68,319.66 111.09,318.76 111.5,317.86 111.9,316.96 112.28,316.08 112.65,315.21 113.02,314.33 113.38,313.46 113.74,312.59 114.08,311.71 114.42,310.82 114.76,309.91 115.08,309 115.4,308.07 115.72,307.13 116.03,306.19 116.33,305.23 116.62,304.26 116.9,303.28 117.16,302.29 117.4,301.28 117.62,300.27 117.81,299.24 117.98,298.2 118.14,297.14 118.29,296.08 118.44,294.99 118.6,293.9 118.78,292.78 118.97,291.66 119.16,290.52 119.35,289.38 119.54,288.21 119.75,287.03 119.96,285.83 120.18,284.6 120.42,283.34 120.67,282.06 120.93,280.77 121.2,279.46 121.49,278.12 121.78,276.75 122.08,275.35 122.39,273.91 122.7,272.42 123.02,270.89 123.34,269.32 123.66,267.72 124,266.08 124.34,264.4 124.71,262.68 125.09,260.91 125.5,259.1 125.93,257.24 126.39,255.33 126.86,253.38 127.35,251.38 127.86,249.35 128.38,247.28 128.92,245.18 129.46,243.05 130.02,240.89 130.58,238.71 131.15,236.51 131.74,234.26 132.35,231.98 132.97,229.64 133.62,227.24 134.28,224.79 135.01,222.15 135.81,219.29 136.65,216.31 137.5,213.31 138.32,210.4 139.08,207.67 139.76,205.23 140.31,203.19 140.74,201.54 141.08,200.18 141.33,199.06 141.53,198.16 141.68,197.42 141.79,196.82 141.89,196.3 141.99,195.83" fill="none" stroke="#f22" stroke-width="0.9" stroke-linejoin="round" />
<circle cx="43.6" cy="354.8" r="2" fill="#f00"/>
<circle cx="44.32" cy="353.72" r="2" fill="#f00"/>
<circle cx="45.17" cy="352.74" r="2" fill="#f00"/>
<circle cx="46.07" cy="351.8" r="2" fill="#f00"/>
<circle cx="47.01" cy="350.9" r="2" fill="#f00"/>
<circle cx="47.94" cy="349.99" r="2" fill="#f00"/>
<circle cx="48.88" cy="349.09" r="2" fill="#f00"/>
<circle cx="49.88" cy="348.27" r="2" fill="#f00"/>
<circle cx="50.92" cy="347.48" r="2" fill="#f00"/>
<circle cx="51.98" cy="346.73" r="2" fill="#f00"/>
<circle cx="53.05" cy="346" r="2" fill="#f00"/>
<circle cx="54.16" cy="345.32" r="2" fill="#f00"/>
<circle cx="55.29" cy="344.67" r="2" fill="#f00"/>
<circle cx="56.46" cy="344.11" r="2" fill="#f00"/>
<circle cx="57.69" cy="343.67" r="2" fill="#f00"/>
<circle cx="58.92" cy="343.28" r="2" fill="#f00"/>
<circle cx="60.18" cy="342.93" r="2" fill="#f00"/>
<circle cx="61.44" cy="342.61" r="2" fill="#f00"/>
<circle cx="62.71" cy="342.34" r="2" fill="#f00"/>
<circle cx="63.99" cy="342.13" r="2" fill="#f00"/>
<circle cx="65.28" cy="341.95" r="2" fill="#f00"/>
<circle cx="66.57" cy="341.82" r="2" fill="#f00"/>
<circle cx="67.87" cy="341.73" r="2" fill="#f00"/>
<circle cx="69.17" cy="341.69" r="2" fill="#f00"/>
<circle cx="70.47" cy="341.68" r="2" fill="#f00"/>
<circle cx="71.77" cy="341.71" r="2" fill="#f00"/>
<circle cx="73.07" cy="341.76" r="2" fill="#f00"/>
<circle cx="74.36" cy="341.84" r="2" fill="#f00"/>
<circle cx="75.66" cy="341.97" r="2" fill="#f00"/>
<circle cx="76.95" cy="342.14" r="2" fill="#f00"/>
<circle cx="78.23" cy="342.36" r="2" fill="#f00"/>
<circle cx="79.5" cy="342.62" r="2" fill="#f00"/>
<circle cx="80.77" cy="342.92" r="2" fill="#f00"/>
<circle cx="82.02" cy="343.27" r="2" fill="#f00"/>
<circle cx="83.26" cy="343.66" r="2" fill="#f00"/>
<circle cx="84.48" cy="344.09" r="2" fill="#f00"/>
<circle cx="85.7" cy="344.54" r="2" fill="#f00"/>
<circle cx="86.92" cy="345.01" r="2" fill="#f00"/>
<circle cx="88.11" cy="345.51" r="2" fill="#f00"/>
<circle cx="89.29" cy="346.06" r="2" fill="#f00"/>
<circle cx="90.43" cy="346.68" r="2" fill="#f00"/>
<circle cx="91.56" cy="347.34" r="2" fill="#f00"/>
<circle cx="92.65" cy="348.04" r="2" fill="#f00"/>
<circle cx="93.77" cy="348.66" r="2" fill="#f00"/>
<circle cx="94.86" cy="348.01" r="2" fill="#f00"/>
<circle cx="95.67" cy="346.99" r="2" fill="#f00"/>
<circle cx="96.39" cy="345.91" r="2" fill="#f00"/>
<circle cx="97.07" cy="344.8" r="2" fill="#f00"/>
<circle cx="97.73" cy="343.68" r="2" fill="#f00"/>
<circle cx="98.36" cy="342.54" r="2" fill="#f00"/>
<circle cx="98.95" cy="341.39" r="2" fill="#f00"/>
<circle cx="99.55" cy="340.23" r="2" fill="#f00"/>
<circle cx="100.15" cy="339.08" r="2" fill="#f00"/>
<circle cx="100.75" cy="337.92" r="2" fill="#f00"/>
<circle cx="101.3" cy="336.86" r="2" fill="#f00"/>
<circle cx="103.41" cy="332.89" r="2" fill="#f00"/>
<circle cx="106.04" cy="328.2" r="2" fill="#f00"/>
<circle cx="109.05" cy="323.01" r="2" fill="#f00"/>
<circle cx="112.28" cy="316.08" r="2" fill="#f00"/>
<circle cx="115.08" cy="309" r="2" fill="#f00"/>
<circle cx="117.4" cy="301.28" r="2" fill="#f00"/>
<circle cx="118.78" cy="292.78" r="2" fill="#f00"/>
<circle cx="120.42" cy="283.34" r="2" fill="#f00"/>
<circle cx="122.7" cy="272.42" r="2" fill="#f00"/>
<circle cx="125.5" cy="259.1" r="2" fill="#f00"/>
<circle cx="129.46" cy="243.05" r="2" fill="#f00"/>
<circle cx="134.28" cy="224.79" r="2" fill="#f00"/>
<circle cx="140.31" cy="203.19" r="2" fill="#f00"/>
<polyline points="43.6,354.8 43.65,354.73 43.71,354.63 43.78,354.52 43.86,354.39 43.94,354.25 44.04,354.11 44.14,353.98 44.25,353.86 44.36,353.74 44.47,353.62 44.59,353.51 44.72,353.39 44.86,353.28 45,353.16 45.16,353.04 45.32,352.91 45.5,352.78 45.69,352.65 45.89,352.52 46.09,352.38 46.31,352.24 46.53,352.1 46.76,351.96 47,351.81 47.25,351.66 47.5,351.5 47.76,351.33 48.04,351.17 48.31,351.01 48.6,350.85 48.9,350.69 49.2,350.55 49.51,350.41 49.85,350.28 50.19,350.15 50.54,350.02 50.89,349.91 51.24,349.8 51.58,349.7 51.91,349.61 52.23,349.53 52.54,349.46 52.85,349.4 53.15,349.34 53.45,349.3 53.75,349.26 54.06,349.22 54.37,349.2 54.68,349.17 54.99,349.16 55.31,349.15 55.62,349.15 55.94,349.15 56.26,349.16 56.58,349.17 56.91,349.2 57.23,349.23 57.56,349.27 57.9,349.31 58.24,349.36 58.57,349.42 58.9,349.48 59.22,349.54 59.53,349.61 59.84,349.67 60.13,349.74 60.42,349.81 60.71,349.89 60.99,349.97 61.27,350.05 61.54,350.13 61.81,350.2 62.08,350.28 62.34,350.36 62.59,350.45 62.85,350.53 63.09,350.61 63.34,350.69 63.59,350.76 63.84,350.83 64.09,350.9 64.35,350.97 64.62,351.04 64.88,351.1 65.13,351.16 65.38,351.21 65.61,351.25 65.82,351.27 66.01,351.29 66.19,351.3 66.35,351.3 66.5,351.29 66.64,351.28 66.78,351.25 66.92,351.22 67.07,351.18 67.21,351.13 67.36,351.07 67.5,351 67.64,350.92 67.78,350.83 67.91,350.74 68.03,350.65 68.14,350.55 68.24,350.45 68.33,350.35 68.41,350.24 68.48,350.13 68.55,350.01 68.62,349.88 68.7,349.75 68.79,349.61 68.89,349.45 68.99,349.3 69.1,349.13 69.21,348.96 69.32,348.78 69.43,348.59 69.54,348.39 69.65,348.19 69.76,347.98 69.86,347.77 69.96,347.56 70.06,347.33 70.16,347.1 70.27,346.85 70.39,346.58 70.51,346.3 70.65,345.99 70.79,345.66 70.94,345.31 71.1,344.94 71.25,344.57 71.41,344.2 71.57,343.83 71.72,343.47 71.87,343.11 72.01,342.76 72.16,342.4 72.31,342.05 72.46,341.7 72.6,341.34 72.74,340.99 72.88,340.63 73.02,340.28 73.15,339.93 73.27,339.59 73.4,339.24 73.53,338.89 73.65,338.53 73.78,338.17 73.91,337.8 74.05,337.42 74.19,337.04 74.33,336.66 74.47,336.27 74.61,335.87 74.75,335.47 74.9,335.06 75.03,334.65 75.17,334.24 75.3,333.82 75.43,333.4 75.56,332.97 75.69,332.53 75.82,332.09 75.96,331.65 76.11,331.19 76.27,330.74 76.43,330.3 76.6,329.86 76.77,329.41 76.95,328.94 77.13,328.43 77.31,327.89 77.49,327.29 77.67,326.62 77.85,325.89 78.04,325.11 78.23,324.3 78.42,323.48 78.61,322.67 78.8,321.87 79,321.12 79.2,320.4 79.41,319.71 79.62,319.03 79.84,318.36 80.05,317.69 80.26,317.01 80.45,316.32 80.63,315.61 80.79,314.89 80.93,314.18 81.05,313.48 81.17,312.75 81.29,312.01 81.42,311.22 81.55,310.38 81.71,309.47 81.88,308.48 82.07,307.4 82.26,306.27 82.46,305.1 82.67,303.92 82.88,302.74 83.09,301.59 83.3,300.5 83.52,299.46 83.74,298.46 83.97,297.49 84.21,296.53 84.44,295.57 84.67,294.58 84.89,293.55 85.11,292.47 85.32,291.35 85.53,290.2 85.73,289.03 85.93,287.83 86.12,286.6 86.32,285.33 86.51,284.04 86.7,282.71 86.89,281.35 87.06,279.95 87.23,278.51 87.39,277.05 87.57,275.55 87.76,274.03 87.97,272.48 88.21,270.91 88.48,269.31 88.78,267.7 89.1,266.06 89.43,264.4 89.78,262.69 90.12,260.95 90.46,259.16 90.79,257.31 91.11,255.42 91.42,253.5 91.72,251.55 92.03,249.54 92.34,247.48 92.66,245.35 93.01,243.14 93.38,240.84 93.77,238.45 94.18,235.96 94.61,233.4 95.06,230.76 95.51,228.07 95.97,225.33 96.44,222.55 96.91,219.75 97.41,216.73 97.96,213.41 98.54,209.94 99.11,206.47 99.66,203.17 100.15,200.19 100.56,197.69 100.87,195.83" fill="none" stroke="#22f" stroke-width="0.9" stroke-linejoin="round" />
<path d="M43.6 352.18L45.9 356.55L41.3 356.55Z" fill="#00f"/>
<path d="M44.35 351.12L46.65 355.49L42.05 355.49Z" fill="#00f"/>
<path d="M45.34 350.28L47.64 354.65L43.04 354.65Z" fill="#00f"/>
<path d="M46.42 349.55L48.72 353.92L44.12 353.92Z" fill="#00f"/>
<path d="M47.52 348.87L49.82 353.24L45.22 353.24Z" fill="#00f"/>
<path d="M48.64 348.2L50.94 352.57L46.34 352.57Z" fill="#00f"/>
<path d="M49.82 347.67L52.12 352.04L47.52 352.04Z" fill="#00f"/>
<path d="M51.05 347.23L53.35 351.6L48.75 351.6Z" fill="#00f"/>
<path d="M52.3 346.89L54.6 351.26L50 351.26Z" fill="#00f"/>
<path d="M53.58 346.66L55.88 351.03L51.28 351.03Z" fill="#00f"/>
<path d="M54.87 346.54L57.17 350.91L52.57 350.91Z" fill="#00f"/>
<path d="M56.17 346.53L58.47 350.9L53.87 350.9Z" fill="#00f"/>
<path d="M57.47 346.63L59.77 351L55.17 351Z" fill="#00f"/>
<path d="M58.75 346.83L61.05 351.2L56.45 351.2Z" fill="#00f"/>
<path d="M60.03 347.09L62.33 351.46L57.73 351.46Z" fill="#00f"/>
<path d="M61.28 347.43L63.58 351.8L58.98 351.8Z" fill="#00f"/>
<path d="M62.53 347.8L64.83 352.17L60.23 352.17Z" fill="#00f"/>
<path d="M63.77 348.19L66.07 352.56L61.47 352.56Z" fill="#00f"/>
<path d="M65.03 348.51L67.33 352.88L62.73 352.88Z" fill="#00f"/>
<path d="M66.31 348.68L68.61 353.05L64.01 353.05Z" fill="#00f"/>
<path d="M67.56 348.34L69.86 352.71L65.26 352.71Z" fill="#00f"/>
<path d="M68.5 347.47L70.8 351.84L66.2 351.84Z" fill="#00f"/>
<path d="M69.18 346.37L71.48 350.74L66.88 350.74Z" fill="#00f"/>
<path d="M69.82 345.24L72.12 349.61L67.52 349.61Z" fill="#00f"/>
<path d="M70.35 344.05L72.65 348.42L68.05 348.42Z" fill="#00f"/>
<path d="M70.87 342.86L73.17 347.23L68.57 347.23Z" fill="#00f"/>
<path d="M71.38 341.66L73.68 346.03L69.08 346.03Z" fill="#00f"/>
<path d="M71.88 340.46L74.18 344.83L69.58 344.83Z" fill="#00f"/>
<path d="M72.38 339.26L74.68 343.63L70.08 343.63Z" fill="#00f"/>
<path d="M72.86 338.06L75.16 342.43L70.56 342.43Z" fill="#00f"/>
<path d="M73.32 336.84L75.62 341.21L71.02 341.21Z" fill="#00f"/>
<path d="M73.76 335.61L76.06 339.98L71.46 339.98Z" fill="#00f"/>
<path d="M74.2 334.39L76.5 338.76L71.9 338.76Z" fill="#00f"/>
<path d="M74.63 333.17L76.93 337.54L72.33 337.54Z" fill="#00f"/>
<path d="M75.03 332.03L77.33 336.4L72.73 336.4Z" fill="#00f"/>
<path d="M76.11 328.57L78.41 332.94L73.81 332.94Z" fill="#00f"/>
<path d="M77.49 324.66L79.79 329.03L75.19 329.03Z" fill="#00f"/>
<path d="M79 318.49L81.3 322.86L76.7 322.86Z" fill="#00f"/>
<path d="M80.63 312.99L82.93 317.36L78.33 317.36Z" fill="#00f"/>
<path d="M81.71 306.85L84.01 311.22L79.41 311.22Z" fill="#00f"/>
<path d="M83.3 297.88L85.6 302.25L81 302.25Z" fill="#00f"/>
<path d="M85.11 289.85L87.41 294.22L82.81 294.22Z" fill="#00f"/>
<path d="M86.7 280.09L89 284.46L84.4 284.46Z" fill="#00f"/>
<path d="M88.21 268.28L90.51 272.65L85.91 272.65Z" fill="#00f"/>
<path d="M90.79 254.68L93.09 259.05L88.49 259.05Z" fill="#00f"/>
<path d="M93.38 238.22L95.68 242.59L91.08 242.59Z" fill="#00f"/>
<path d="M96.91 217.13L99.21 221.5L94.61 221.5Z" fill="#00f"/>
</g>
<line x1="187.6" y1="206.2" x2="207.3" y2="206.2" stroke="#222" stroke-width="1.0"/>
<rect x="195.6" y="204.4" width="3.6" height="3.6" fill="#000"/>
<text x="209.9" y="209.1" font-size="8.4" text-anchor="start" font-family='"Liberation Sans", sans-serif' >P</text>
<line x1="187.6" y1="217.1" x2="207.3" y2="217.1" stroke="#f33" stroke-width="1.0"/>
<circle cx="197.4" cy="217.1" r="2" fill="#f00"/>
<text x="209.9" y="220" font-size="8.4" text-anchor="start" font-family='"Liberation Sans", sans-serif' >P/rGO</text>
<line x1="187.6" y1="228" x2="207.3" y2="228" stroke="#33f" stroke-width="1.0"/>
<path d="M197.4 225.38L199.7 229.75L195.1 229.75Z" fill="#00f"/>
<text x="209.9" y="230.9" font-size="8.4" text-anchor="start" font-family='"Liberation Sans", sans-serif' >P/rGO-C<tspan font-size="5.5" dy="2">3</tspan><tspan dy="-2">N</tspan><tspan font-size="5.5" dy="2">4</tspan></text>
<rect x="324.4" y="197.2" width="218.3" height="158.1" fill="none" stroke="#000" stroke-width="1.3"/>
<line x1="324.4" y1="355.3" x2="324.4" y2="358.5" stroke="#000" stroke-width="1.1"/>
<line x1="397.17" y1="355.3" x2="397.17" y2="358.5" stroke="#000" stroke-width="1.1"/>
<line x1="469.94" y1="355.3" x2="469.94" y2="358.5" stroke="#000" stroke-width="1.1"/>
<line x1="542.71" y1="355.3" x2="542.71" y2="358.5" stroke="#000" stroke-width="1.1"/>
<line x1="360.78" y1="355.3" x2="360.78" y2="357.3" stroke="#000" stroke-width="1.1"/>
<line x1="433.55" y1="355.3" x2="433.55" y2="357.3" stroke="#000" stroke-width="1.1"/>
<line x1="506.32" y1="355.3" x2="506.32" y2="357.3" stroke="#000" stroke-width="1.1"/>
<text x="324.4" y="367.8" font-size="8.3" text-anchor="middle" font-family='"Liberation Sans", sans-serif' >0</text>
<text x="397.17" y="367.8" font-size="8.3" text-anchor="middle" font-family='"Liberation Sans", sans-serif' >100</text>
<text x="469.94" y="367.8" font-size="8.3" text-anchor="middle" font-family='"Liberation Sans", sans-serif' >200</text>
<text x="542.71" y="367.8" font-size="8.3" text-anchor="middle" font-family='"Liberation Sans", sans-serif' >300</text>
<line x1="320.8" y1="355.3" x2="324.4" y2="355.3" stroke="#000" stroke-width="1.1"/>
<line x1="320.8" y1="302.6" x2="324.4" y2="302.6" stroke="#000" stroke-width="1.1"/>
<line x1="320.8" y1="249.9" x2="324.4" y2="249.9" stroke="#000" stroke-width="1.1"/>
<line x1="320.8" y1="197.2" x2="324.4" y2="197.2" stroke="#000" stroke-width="1.1"/>
<line x1="322.2" y1="328.95" x2="324.4" y2="328.95" stroke="#000" stroke-width="1.1"/>
<line x1="322.2" y1="276.25" x2="324.4" y2="276.25" stroke="#000" stroke-width="1.1"/>
<line x1="322.2" y1="223.55" x2="324.4" y2="223.55" stroke="#000" stroke-width="1.1"/>
<text x="318.4" y="358.25" font-size="8.3" text-anchor="end" font-family='"Liberation Sans", sans-serif' >0</text>
<text x="318.4" y="305.55" font-size="8.3" text-anchor="end" font-family='"Liberation Sans", sans-serif' >100</text>
<text x="318.4" y="252.85" font-size="8.3" text-anchor="end" font-family='"Liberation Sans", sans-serif' >200</text>
<text x="318.4" y="200.15" font-size="8.3" text-anchor="end" font-family='"Liberation Sans", sans-serif' >300</text>
<text x="433.2" y="383.3" font-size="8.9" text-anchor="middle" font-family='"Liberation Sans", sans-serif' >Z' / ohm</text>
<text transform="translate(298.2,300.8) rotate(-90)" font-size="8.9" font-family='"Liberation Sans", sans-serif' textLength="36.6" lengthAdjust="spacingAndGlyphs">-Z" / ohm</text>
<text x="279" y="208.3" font-size="17.6" text-anchor="start" font-family='"Liberation Serif", serif' stroke="#000" stroke-width="0.25">(d)</text>
<clipPath id="cd"><rect x="324.4" y="197.2" width="218.30000000000007" height="158.10000000000002"/></clipPath>
<g clip-path="url(#cd)">
<polyline points="324.4,355.3 324.42,355.2 324.44,355.07 324.47,354.91 324.5,354.74 324.53,354.55 324.58,354.36 324.63,354.17 324.69,353.98 324.76,353.8 324.83,353.6 324.91,353.4 324.99,353.2 325.09,353 325.2,352.8 325.34,352.6 325.49,352.4 325.66,352.22 325.85,352.05 326.04,351.89 326.26,351.73 326.49,351.56 326.76,351.37 327.05,351.16 327.38,350.93 327.75,350.65 328.16,350.33 328.61,349.99 329.08,349.63 329.56,349.28 330.07,348.94 330.58,348.62 331.09,348.34 331.62,348.1 332.17,347.88 332.73,347.67 333.3,347.48 333.88,347.31 334.46,347.15 335.04,347 335.61,346.87 336.17,346.75 336.73,346.65 337.3,346.56 337.86,346.49 338.42,346.43 338.99,346.38 339.55,346.33 340.12,346.29 340.69,346.25 341.26,346.22 341.84,346.2 342.41,346.19 342.99,346.18 343.56,346.19 344.13,346.21 344.7,346.24 345.27,346.28 345.83,346.33 346.4,346.39 346.96,346.47 347.52,346.55 348.08,346.65 348.65,346.75 349.21,346.87 349.78,346.99 350.36,347.14 350.93,347.29 351.51,347.45 352.08,347.62 352.66,347.79 353.23,347.96 353.8,348.13 354.38,348.31 354.97,348.5 355.58,348.7 356.17,348.9 356.76,349.09 357.31,349.27 357.83,349.43 358.31,349.56 358.74,349.66 359.13,349.75 359.49,349.82 359.82,349.87 360.13,349.91 360.42,349.93 360.71,349.94 361,349.92 361.28,349.9 361.54,349.87 361.78,349.82 362.02,349.75 362.25,349.67 362.48,349.55 362.72,349.41 362.97,349.24 363.23,349.03 363.51,348.78 363.79,348.51 364.07,348.21 364.35,347.89 364.63,347.56 364.89,347.21 365.15,346.87 365.39,346.52 365.62,346.17 365.84,345.81 366.06,345.44 366.28,345.04 366.5,344.63 366.73,344.18 366.97,343.71 367.22,343.19 367.49,342.63 367.76,342.04 368.03,341.43 368.31,340.81 368.59,340.19 368.87,339.57 369.15,338.96 369.44,338.37 369.74,337.76 370.05,337.16 370.36,336.56 370.66,335.96 370.95,335.37 371.23,334.79 371.48,334.22 371.62,333.98 371.61,334.2 371.54,334.62 371.47,334.94 371.51,334.92 371.72,334.27 372.19,332.72 373.01,330 374.15,326.18 375.52,321.54 377.1,316.14 378.89,310.04 380.86,303.31 382.99,296.01 385.28,288.2 387.71,279.94 390.52,270.37 393.84,259.08 397.47,246.76 401.18,234.12 404.78,221.88 408.06,210.73 410.81,201.39 412.82,194.56" fill="none" stroke="#000" stroke-width="1.0" stroke-linejoin="round" />
<rect x="322.55" y="353.45" width="3.7" height="3.7" fill="#000"/>
<rect x="322.79" y="352.28" width="3.7" height="3.7" fill="#000"/>
<rect x="323.23" y="351.16" width="3.7" height="3.7" fill="#000"/>
<rect x="323.97" y="350.22" width="3.7" height="3.7" fill="#000"/>
<rect x="324.93" y="349.5" width="3.7" height="3.7" fill="#000"/>
<rect x="325.9" y="348.8" width="3.7" height="3.7" fill="#000"/>
<rect x="326.85" y="348.07" width="3.7" height="3.7" fill="#000"/>
<rect x="327.82" y="347.36" width="3.7" height="3.7" fill="#000"/>
<rect x="328.83" y="346.72" width="3.7" height="3.7" fill="#000"/>
<rect x="329.91" y="346.19" width="3.7" height="3.7" fill="#000"/>
<rect x="331.03" y="345.77" width="3.7" height="3.7" fill="#000"/>
<rect x="332.18" y="345.42" width="3.7" height="3.7" fill="#000"/>
<rect x="333.34" y="345.12" width="3.7" height="3.7" fill="#000"/>
<rect x="334.52" y="344.86" width="3.7" height="3.7" fill="#000"/>
<rect x="335.7" y="344.68" width="3.7" height="3.7" fill="#000"/>
<rect x="336.89" y="344.55" width="3.7" height="3.7" fill="#000"/>
<rect x="338.09" y="344.45" width="3.7" height="3.7" fill="#000"/>
<rect x="339.29" y="344.38" width="3.7" height="3.7" fill="#000"/>
<rect x="340.49" y="344.34" width="3.7" height="3.7" fill="#000"/>
<rect x="341.69" y="344.34" width="3.7" height="3.7" fill="#000"/>
<rect x="342.89" y="344.39" width="3.7" height="3.7" fill="#000"/>
<rect x="344.08" y="344.49" width="3.7" height="3.7" fill="#000"/>
<rect x="345.27" y="344.64" width="3.7" height="3.7" fill="#000"/>
<rect x="346.45" y="344.84" width="3.7" height="3.7" fill="#000"/>
<rect x="347.63" y="345.08" width="3.7" height="3.7" fill="#000"/>
<rect x="348.8" y="345.36" width="3.7" height="3.7" fill="#000"/>
<rect x="349.95" y="345.69" width="3.7" height="3.7" fill="#000"/>
<rect x="351.1" y="346.03" width="3.7" height="3.7" fill="#000"/>
<rect x="352.25" y="346.38" width="3.7" height="3.7" fill="#000"/>
<rect x="353.39" y="346.74" width="3.7" height="3.7" fill="#000"/>
<rect x="354.53" y="347.12" width="3.7" height="3.7" fill="#000"/>
<rect x="355.68" y="347.48" width="3.7" height="3.7" fill="#000"/>
<rect x="356.83" y="347.8" width="3.7" height="3.7" fill="#000"/>
<rect x="358.01" y="348.03" width="3.7" height="3.7" fill="#000"/>
<rect x="359.21" y="348.13" width="3.7" height="3.7" fill="#000"/>
<rect x="360.38" y="347.93" width="3.7" height="3.7" fill="#000"/>
<rect x="361.37" y="347.27" width="3.7" height="3.7" fill="#000"/>
<rect x="362.19" y="346.39" width="3.7" height="3.7" fill="#000"/>
<rect x="362.96" y="345.48" width="3.7" height="3.7" fill="#000"/>
<rect x="363.65" y="344.5" width="3.7" height="3.7" fill="#000"/>
<rect x="364.27" y="343.47" width="3.7" height="3.7" fill="#000"/>
<rect x="364.8" y="342.39" width="3.7" height="3.7" fill="#000"/>
<rect x="365.33" y="341.12" width="3.7" height="3.7" fill="#000"/>
<rect x="366.22" y="339.01" width="3.7" height="3.7" fill="#000"/>
<rect x="367.3" y="336.59" width="3.7" height="3.7" fill="#000"/>
<rect x="368.55" y="333.69" width="3.7" height="3.7" fill="#000"/>
<rect x="369.96" y="330.31" width="3.7" height="3.7" fill="#000"/>
<rect x="372.03" y="326.36" width="3.7" height="3.7" fill="#000"/>
<rect x="374.36" y="321.67" width="3.7" height="3.7" fill="#000"/>
<rect x="376.33" y="315.87" width="3.7" height="3.7" fill="#000"/>
<rect x="378.66" y="308.97" width="3.7" height="3.7" fill="#000"/>
<rect x="381.57" y="299.33" width="3.7" height="3.7" fill="#000"/>
<rect x="384.55" y="287.84" width="3.7" height="3.7" fill="#000"/>
<rect x="386.88" y="275.98" width="3.7" height="3.7" fill="#000"/>
<rect x="389.13" y="262.65" width="3.7" height="3.7" fill="#000"/>
<rect x="391.75" y="248.63" width="3.7" height="3.7" fill="#000"/>
<rect x="394.74" y="232.24" width="3.7" height="3.7" fill="#000"/>
<rect x="397.87" y="213.06" width="3.7" height="3.7" fill="#000"/>
</g>
<rect x="489.6" y="208.5" width="3.8" height="3.8" fill="#000"/>
<text x="503.6" y="213.3" font-size="8.2" text-anchor="start" font-family='"Liberation Sans", sans-serif' >Raw data</text>
<line x1="481.1" y1="223.3" x2="501.7" y2="223.3" stroke="#000" stroke-width="1"/>
<text x="504.2" y="226.2" font-size="8.4" text-anchor="start" font-family='"Liberation Sans", sans-serif' textLength="34.0" lengthAdjust="spacingAndGlyphs">Fit result</text>
<g stroke="#111" stroke-width="1.15" fill="none" stroke-linejoin="miter">
<line x1="421.2" y1="313.1" x2="435.2" y2="313.1"/>
<polyline points="435.2,313.1 437.07,315.2 440.82,311 444.57,315.2 448.32,311 450.2,313.1" fill="none" stroke="#111" stroke-width="1.15" stroke-linejoin="round" />
<line x1="450.2" y1="313.1" x2="473.6" y2="313.1"/>
<polyline points="473.6,313.1 475.4,315.2 479,311 482.6,315.2 486.2,311 488,313.1" fill="none" stroke="#111" stroke-width="1.15" stroke-linejoin="round" />
<line x1="488" y1="313.1" x2="506.2" y2="313.1"/>
<polyline points="503.4,309.2 507.3,315.2 509.9,312.2 512.4,315.2 516.5,309.2"/>
<line x1="514.8" y1="313.1" x2="525.8" y2="313.1"/>
<polyline points="463.6,313 463.6,326.3 496.7,326.3 496.7,313"/>
<polyline points="473.1,322.2 478.3,326.3 473.1,330.4"/>
<polyline points="479.3,322.2 484.8,326.3 479.3,330.4"/>
</g>
<circle cx="463.6" cy="313.1" r="1.4" fill="#000"/>
<text x="438.2" y="304.9" font-size="8.9" text-anchor="start" font-family='"Liberation Serif", serif' stroke="#000" stroke-width="0.18">Rs</text>
<text x="476.7" y="304.9" font-size="8.6" text-anchor="start" font-family='"Liberation Serif", serif' stroke="#000" stroke-width="0.18">R<tspan font-size="5.5" dy="1.8">1</tspan></text>
<text x="505.5" y="304.6" font-size="8.6" text-anchor="start" font-family='"Liberation Serif", serif' stroke="#000" stroke-width="0.18">Wo</text>
<text x="470.8" y="341" font-size="9.2" text-anchor="start" font-family='"Liberation Serif", serif' stroke="#000" stroke-width="0.18">CPE<tspan font-size="5.8" dy="1.8">1</tspan></text>
</svg>
</body></html>
